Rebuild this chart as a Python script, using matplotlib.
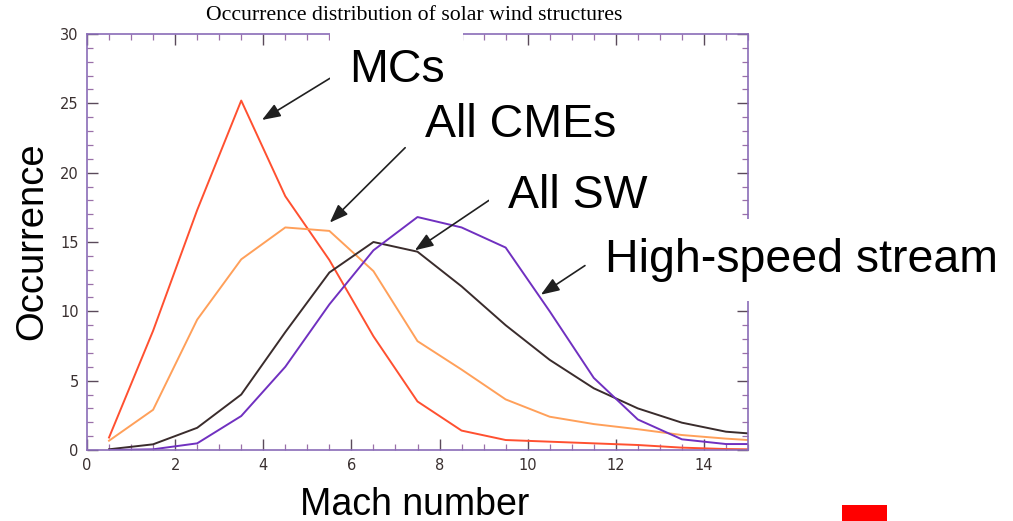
import matplotlib
matplotlib.use("Agg")
import matplotlib.pyplot as plt
from matplotlib.patches import Rectangle
from matplotlib.ticker import MultipleLocator

# Mach number bin centres (last point at the right edge)
mach = [0.5, 1.5, 2.5, 3.5, 4.5, 5.5, 6.5, 7.5, 8.5, 9.5, 10.5, 11.5, 12.5, 13.5, 14.5, 15.0]

mcs = [0.9, 8.6, 17.3, 25.2, 18.3, 13.7, 8.2, 3.5, 1.4, 0.72, 0.6, 0.48, 0.36, 0.17, 0.07, 0.05]
all_cmes = [0.67, 2.9, 9.4, 13.75, 16.05, 15.8, 12.9, 7.85, 5.8, 3.65, 2.4, 1.87, 1.5, 1.08, 0.82, 0.72]
all_sw = [0.05, 0.41, 1.6, 4.0, 8.5, 12.8, 15.0, 14.3, 11.8, 9.0, 6.5, 4.45, 3.0, 1.97, 1.32, 1.2]
hss = [0.0, 0.05, 0.48, 2.45, 6.0, 10.5, 14.4, 16.8, 16.05, 14.6, 10.0, 5.2, 2.2, 0.77, 0.43, 0.43]

W, H = 1013, 521
fig = plt.figure(figsize=(W / 100, H / 100), dpi=100)
ax = fig.add_axes([87 / W, 1 - 450 / H, (748 - 87) / W, (450 - 34) / H])

ax.plot(mach, mcs, color='#ff5030', lw=1.4)
ax.plot(mach, all_cmes, color='#ffa05a', lw=1.4)
ax.plot(mach, all_sw, color='#3a2c2c', lw=1.4)
ax.plot(mach, hss, color='#7030c0', lw=1.4)

ax.set_xlim(0, 15)
ax.set_ylim(0, 30)
ax.xaxis.set_major_locator(MultipleLocator(2))
ax.xaxis.set_minor_locator(MultipleLocator(0.5))
ax.yaxis.set_major_locator(MultipleLocator(5))
ax.yaxis.set_minor_locator(MultipleLocator(1))
ax.tick_params(which='both', direction='in', top=True, right=True,
               labelcolor='#3a3030', labelsize=10.5, pad=6)
ax.tick_params(which='major', length=8, width=1.0, color='#5a4a5a')
ax.tick_params(which='minor', length=4.5, width=0.9, color='#9a70a8')
for s in ax.spines.values():
    s.set_color('#8a6cb8')
    s.set_linewidth(1.2)

fig.text(414 / W, 1 - 15 / H, 'Occurrence distribution of solar wind structures',
         family='Liberation Serif', fontsize=15.7, ha='center', va='center')

big = dict(family='Liberation Sans', fontsize=33.5, ha='left', va='baseline',
           bbox=dict(boxstyle='square,pad=0.4', fc='white', ec='none'))
fig.text(349 / W, 1 - 82 / H, 'MCs', **big)
fig.text(425 / W, 1 - 137 / H, 'All CMEs', **big)
fig.text(508 / W, 1 - 208 / H, 'All SW', **big)
fig.text(605 / W, 1 - 272 / H, 'High-speed stream', **big)

fig.text(42 / W, 1 - 241 / H, 'Occurrence', family='Liberation Sans', fontsize=27.5,
         rotation=90, rotation_mode='anchor', ha='center', va='baseline')
fig.text(415 / W, 1 - 515 / H, 'Mach number', family='Liberation Sans', fontsize=27,
         ha='center', va='baseline')

arrows = [((5.51, 26.8), (3.97, 23.8)),
          ((7.22, 21.8), (5.51, 16.4)),
          ((9.12, 18.0), (7.44, 14.4)),
          ((11.3, 13.3), (10.3, 11.2))]
for tail, head in arrows:
    ax.annotate('', xy=head, xytext=tail, annotation_clip=False,
                arrowprops=dict(arrowstyle='-|>,head_length=0.8,head_width=0.3',
                                color='#202020', lw=1.2, mutation_scale=14,
                                shrinkA=0, shrinkB=0))

fig.patches.append(Rectangle((842 / W, 0), 45 / W, 16 / H, transform=fig.transFigure,
                             fc='#ff0000', ec='none'))

fig.savefig('out.png', dpi=100)
